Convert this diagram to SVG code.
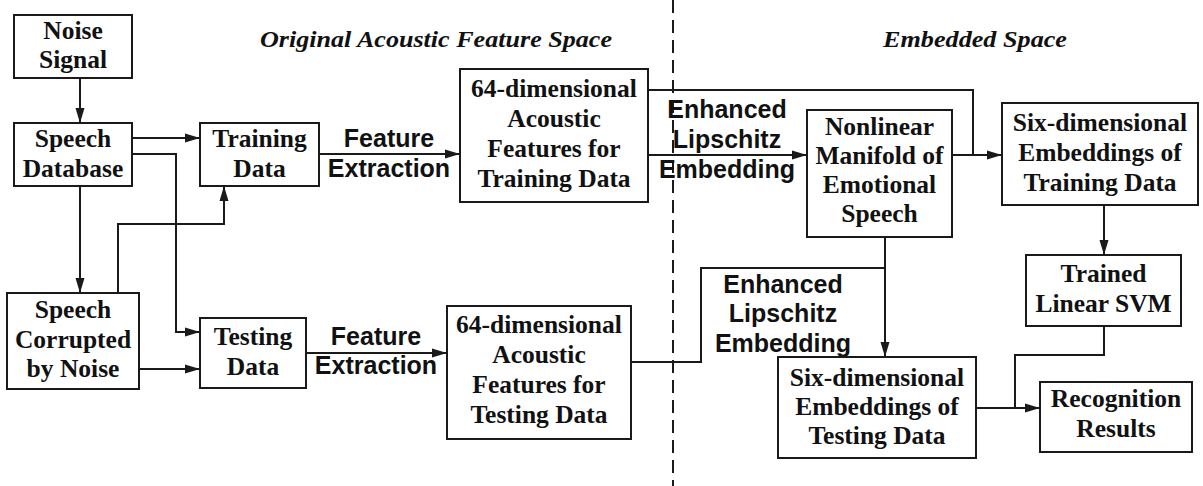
<svg xmlns="http://www.w3.org/2000/svg" width="1203" height="486" viewBox="0 0 1203 486">
<style>
.box{fill:#fff;stroke:#1a1a1a;stroke-width:2}
.t{font-family:"Liberation Serif","Times New Roman",serif;font-weight:bold;font-size:25.5px;fill:#111;text-anchor:middle}
.s{font-family:"Liberation Sans",Arial,sans-serif;font-weight:bold;font-size:25px;fill:#111;text-anchor:middle}
.h{font-family:"Liberation Serif","Times New Roman",serif;font-weight:bold;font-style:italic;font-size:23.5px;fill:#111}
.c{fill:none;stroke:#1a1a1a;stroke-width:2}
</style>
<defs>
<marker id="a" markerWidth="15" markerHeight="10" refX="15" refY="5" orient="auto" markerUnits="userSpaceOnUse">
<path d="M0,0.5 L15,5 L0,9.5 z" fill="#1a1a1a"/>
</marker>
</defs>
<rect width="1203" height="486" fill="#fff"/>
<line x1="673" y1="0" x2="673" y2="486" stroke="#1a1a1a" stroke-width="2" stroke-dasharray="13 7"/>
<text class="h" x="260" y="47" textLength="352" lengthAdjust="spacingAndGlyphs">Original Acoustic Feature Space</text>
<text class="h" x="883" y="47" textLength="184" lengthAdjust="spacingAndGlyphs">Embedded Space</text>
<g id="connectors">
<path class="c" d="M80,78 V123" marker-end="url(#a)"/>
<path class="c" d="M132,138 H200" marker-end="url(#a)"/>
<path class="c" d="M132,154 H176 V332 H200" marker-end="url(#a)"/>
<path class="c" d="M80,186 V293" marker-end="url(#a)"/>
<path class="c" d="M118,293 V224 H224 V186" marker-end="url(#a)"/>
<path class="c" d="M139,369 H200" marker-end="url(#a)"/>
<path class="c" d="M319,154 H460" marker-end="url(#a)"/>
<path class="c" d="M306,353 H447" marker-end="url(#a)"/>
<path class="c" d="M648,155 H807" marker-end="url(#a)"/>
<path class="c" d="M648,90 H973 V155"/>
<path class="c" d="M952,155 H1002" marker-end="url(#a)"/>
<path class="c" d="M885,237 V357" marker-end="url(#a)"/>
<path class="c" d="M631,362 H701 V268 H885"/>
<path class="c" d="M1104,205 V255" marker-end="url(#a)"/>
<path class="c" d="M1104,326 V355 H1015 V408"/>
<path class="c" d="M976,408 H1040" marker-end="url(#a)"/>
</g>
<g id="label-fe1"><text class="s" x="389" y="147">Feature</text><text class="s" x="389" y="177">Extraction</text></g>
<g id="label-fe2"><text class="s" x="376" y="345">Feature</text><text class="s" x="376" y="374">Extraction</text></g>
<g id="label-le1"><text class="s" x="727" y="118">Enhanced</text><text class="s" x="727" y="148">Lipschitz</text><text class="s" x="727" y="178">Embedding</text></g>
<g id="label-le2"><text class="s" x="783" y="293">Enhanced</text><text class="s" x="783" y="322">Lipschitz</text><text class="s" x="783" y="352">Embedding</text></g>
<g id="noise"><rect class="box" x="14" y="15" width="118" height="63"/><text class="t" x="73" y="39">Noise</text><text class="t" x="73" y="68">Signal</text></g>
<g id="speechdb"><rect class="box" x="14" y="123" width="118" height="63"/><text class="t" x="73" y="147">Speech</text><text class="t" x="73" y="177">Database</text></g>
<g id="training"><rect class="box" x="200" y="123" width="119" height="63"/><text class="t" x="259.5" y="147">Training</text><text class="t" x="259.5" y="177">Data</text></g>
<g id="corrupted"><rect class="box" x="7" y="293" width="132" height="96"/><text class="t" x="73" y="318">Speech</text><text class="t" x="73" y="348">Corrupted</text><text class="t" x="73" y="377">by Noise</text></g>
<g id="testing"><rect class="box" x="200" y="318" width="106" height="70"/><text class="t" x="253" y="345">Testing</text><text class="t" x="253" y="375">Data</text></g>
<g id="feat-train"><rect class="box" x="460" y="69" width="188" height="133"/><text class="t" x="554" y="97">64-dimensional</text><text class="t" x="554" y="127">Acoustic</text><text class="t" x="554" y="157">Features for</text><text class="t" x="554" y="187">Training Data</text></g>
<g id="feat-test"><rect class="box" x="447" y="306" width="184" height="133"/><text class="t" x="539" y="333">64-dimensional</text><text class="t" x="539" y="363">Acoustic</text><text class="t" x="539" y="393">Features for</text><text class="t" x="539" y="423">Testing Data</text></g>
<g id="manifold"><rect class="box" x="807" y="110" width="145" height="127"/><text class="t" x="879.5" y="135">Nonlinear</text><text class="t" x="879.5" y="164">Manifold of</text><text class="t" x="879.5" y="193">Emotional</text><text class="t" x="879.5" y="222">Speech</text></g>
<g id="emb-train"><rect class="box" x="1002" y="103" width="196" height="102"/><text class="t" x="1100" y="131">Six-dimensional</text><text class="t" x="1100" y="161">Embeddings of</text><text class="t" x="1100" y="191">Training Data</text></g>
<g id="svm"><rect class="box" x="1026" y="255" width="155" height="71"/><text class="t" x="1103.5" y="282">Trained</text><text class="t" x="1103.5" y="312">Linear SVM</text></g>
<g id="emb-test"><rect class="box" x="778" y="357" width="198" height="101"/><text class="t" x="877" y="386">Six-dimensional</text><text class="t" x="877" y="415">Embeddings of</text><text class="t" x="877" y="444">Testing Data</text></g>
<g id="result"><rect class="box" x="1040" y="382" width="152" height="70"/><text class="t" x="1116" y="407">Recognition</text><text class="t" x="1116" y="437">Results</text></g>
</svg>
